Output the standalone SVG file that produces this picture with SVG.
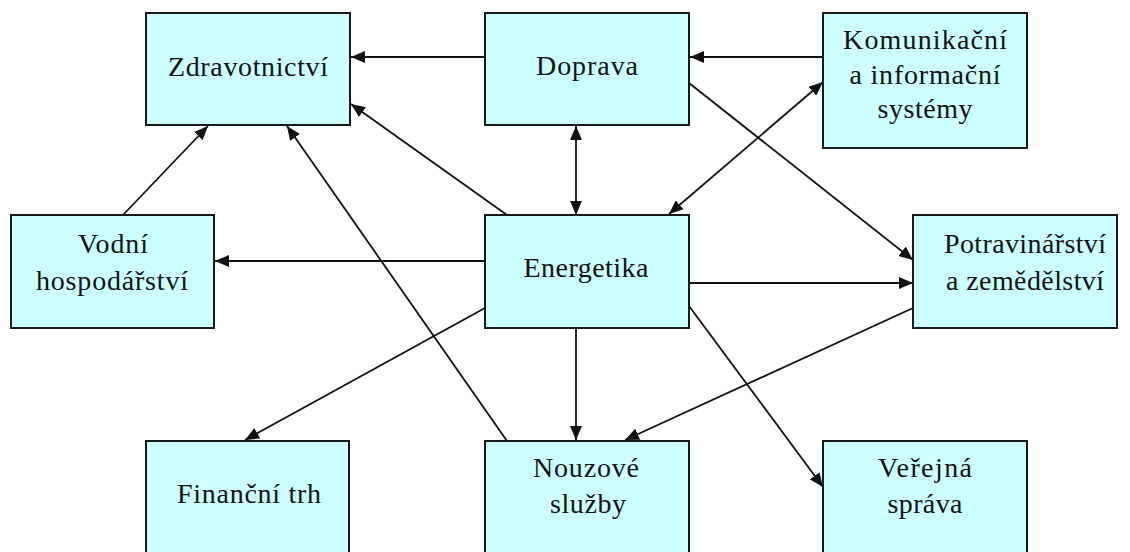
<svg xmlns="http://www.w3.org/2000/svg" width="1130" height="552" viewBox="0 0 1130 552">
  <style>
    .box { fill: #CCFFFF; stroke: #1a1a1a; stroke-width: 2; }
    .lbl { font-family: "Liberation Serif", "DejaVu Serif", "Times New Roman", serif; font-size: 28px; fill: #111; text-anchor: middle; }
    .edge { stroke: #111; stroke-width: 1.8; fill: none; }
  </style>
  <defs>
    <marker id="arrow" viewBox="0 0 14 12" refX="14" refY="6" markerWidth="14" markerHeight="12" markerUnits="userSpaceOnUse" orient="auto-start-reverse">
      <path d="M0,0 L14,6 L0,12 z" fill="#111"/>
    </marker>
  </defs>
  <rect width="1130" height="552" fill="#ffffff"/>

  <!-- connectors -->
  <g id="connectors">
    <line class="edge" x1="485" y1="57" x2="351" y2="57" marker-end="url(#arrow)"/>
    <line class="edge" x1="823" y1="57" x2="690" y2="57" marker-end="url(#arrow)"/>
    <line class="edge" x1="576" y1="126" x2="576" y2="215" marker-start="url(#arrow)" marker-end="url(#arrow)"/>
    <line class="edge" x1="669" y1="214" x2="823" y2="82" marker-start="url(#arrow)" marker-end="url(#arrow)"/>
    <line class="edge" x1="689" y1="83" x2="913" y2="260" marker-end="url(#arrow)"/>
    <line class="edge" x1="507" y1="215" x2="351" y2="104" marker-end="url(#arrow)"/>
    <line class="edge" x1="123" y1="215" x2="208" y2="126" marker-end="url(#arrow)"/>
    <line class="edge" x1="507" y1="441" x2="287" y2="126" marker-end="url(#arrow)"/>
    <line class="edge" x1="485" y1="261" x2="215" y2="261" marker-end="url(#arrow)"/>
    <line class="edge" x1="689" y1="283" x2="913" y2="283" marker-end="url(#arrow)"/>
    <line class="edge" x1="485" y1="308" x2="245" y2="440" marker-end="url(#arrow)"/>
    <line class="edge" x1="576" y1="328" x2="576" y2="440" marker-end="url(#arrow)"/>
    <line class="edge" x1="689" y1="306" x2="823" y2="487" marker-end="url(#arrow)"/>
    <line class="edge" x1="913" y1="308" x2="625" y2="440" marker-end="url(#arrow)"/>
  </g>

  <!-- nodes -->
  <g id="zdravotnictvi">
    <rect class="box" x="146" y="13" width="204" height="112"/>
    <text class="lbl" x="248" y="76" textLength="160" lengthAdjust="spacing">Zdravotnictví</text>
  </g>
  <g id="doprava">
    <rect class="box" x="485" y="13" width="204" height="112"/>
    <text class="lbl" x="587" y="75" textLength="102" lengthAdjust="spacing">Doprava</text>
  </g>
  <g id="komunikacni">
    <rect class="box" x="823" y="13" width="204" height="135"/>
    <text class="lbl" x="925" y="49" textLength="164" lengthAdjust="spacing">Komunikační</text>
    <text class="lbl" x="925" y="84" textLength="151" lengthAdjust="spacing">a informační</text>
    <text class="lbl" x="925" y="118" textLength="95" lengthAdjust="spacing">systémy</text>
  </g>
  <g id="vodni">
    <rect class="box" x="11" y="215" width="203" height="113"/>
    <text class="lbl" x="113" y="253" textLength="70" lengthAdjust="spacing">Vodní</text>
    <text class="lbl" x="112" y="290" textLength="152" lengthAdjust="spacing">hospodářství</text>
  </g>
  <g id="energetika">
    <rect class="box" x="485" y="215" width="204" height="113"/>
    <text class="lbl" x="586" y="277" textLength="125" lengthAdjust="spacing">Energetika</text>
  </g>
  <g id="potravinarstvi">
    <rect class="box" x="913" y="215" width="204" height="113"/>
    <text class="lbl" x="1025" y="253" textLength="162" lengthAdjust="spacing">Potravinářství</text>
    <text class="lbl" x="1025" y="290" textLength="158" lengthAdjust="spacing">a zemědělství</text>
  </g>
  <g id="financni-trh">
    <rect class="box" x="146" y="441" width="203" height="130"/>
    <text class="lbl" x="249" y="503" textLength="144" lengthAdjust="spacing">Finanční trh</text>
  </g>
  <g id="nouzove-sluzby">
    <rect class="box" x="485" y="441" width="204" height="130"/>
    <text class="lbl" x="586" y="477" textLength="106" lengthAdjust="spacing">Nouzové</text>
    <text class="lbl" x="588" y="513" textLength="76" lengthAdjust="spacing">služby</text>
  </g>
  <g id="verejna-sprava">
    <rect class="box" x="823" y="441" width="204" height="130"/>
    <text class="lbl" x="925" y="477" textLength="94" lengthAdjust="spacing">Veřejná</text>
    <text class="lbl" x="925" y="513" textLength="75" lengthAdjust="spacing">správa</text>
  </g>
</svg>
